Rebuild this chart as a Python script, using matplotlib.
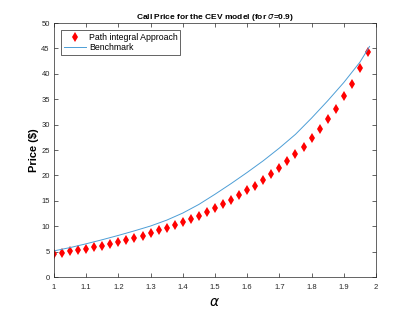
import numpy as np
import matplotlib
matplotlib.use('Agg')
import matplotlib.pyplot as plt

# dados
alpha_pi = [1.0, 1.025, 1.05, 1.075, 1.1, 1.125, 1.15, 1.175, 1.2, 1.225,
            1.25, 1.275, 1.3, 1.325, 1.35, 1.375, 1.4, 1.425, 1.45, 1.475,
            1.5, 1.525, 1.55, 1.575, 1.6, 1.625, 1.65, 1.675, 1.7, 1.725,
            1.75, 1.775, 1.8, 1.825, 1.85, 1.875, 1.9, 1.925, 1.95, 1.975]
preco_pi = [4.5, 4.8, 5.05, 5.3, 5.5, 5.9, 6.2, 6.5, 6.95, 7.3,
            7.7, 8.1, 8.7, 9.2, 9.7, 10.2, 10.8, 11.5, 12.1, 12.85,
            13.5, 14.35, 15.15, 16.1, 17.05, 18.0, 19.1, 20.3, 21.5, 22.8,
            24.2, 25.6, 27.3, 29.2, 31.1, 33.1, 35.6, 38.1, 41.1, 44.4]

alpha_bm = [1.0, 1.05, 1.1, 1.15, 1.2, 1.25, 1.3, 1.35, 1.4, 1.45,
            1.5, 1.55, 1.6, 1.65, 1.7, 1.75, 1.8, 1.85, 1.9, 1.95, 1.98]
preco_bm = [5.15, 5.8, 6.55, 7.35, 8.2, 9.1, 10.05, 11.2, 12.6, 14.3,
            16.3, 18.4, 20.6, 22.9, 25.4, 28.1, 31.3, 34.7, 38.3, 42.3, 45.4]

plt.rcParams['font.family'] = ['Liberation Sans', 'DejaVu Sans']

fig = plt.figure(figsize=(4.15, 3.12), dpi=100)
ax = fig.add_axes([0.13, 0.112, 0.776, 0.814])

ax.plot(alpha_pi, preco_pi, 'd', color='red', markersize=5, markeredgewidth=0,
        label='Path integral Approach')
ax.plot(alpha_bm, preco_bm, '-', color='#4d9ed6', linewidth=0.7, label='Benchmark')

ax.set_xlim(1, 2)
ax.set_ylim(0, 50)
ax.set_xticks(np.arange(1, 2.01, 0.1))
ax.set_xticklabels(['1', '1.1', '1.2', '1.3', '1.4', '1.5', '1.6', '1.7', '1.8', '1.9', '2'])
ax.set_yticks(np.arange(0, 51, 5))

cinza = '#262626'
ax.tick_params(direction='in', length=3, width=0.5, labelsize=5.5, colors=cinza,
               top=True, right=True, pad=3)
ax.tick_params(axis='x', pad=5)
for s in ax.spines.values():
    s.set_linewidth(0.5)
    s.set_color(cinza)

ax.set_title(r'Call Price for the CEV model (for $\sigma$=0.9)', fontsize=6,
             fontweight='bold', pad=3)
ax.set_ylabel('Price ($)', fontsize=8, fontweight='bold')
ax.yaxis.set_label_coords(-0.047, 0.5)
ax.set_xlabel(r'$\alpha$', fontsize=10, labelpad=3)

leg = ax.legend(loc='upper left', fontsize=6.3, fancybox=False, framealpha=1,
                edgecolor=cinza, borderaxespad=0.8, handlelength=2.6,
                handletextpad=0.3, borderpad=0.3, labelspacing=0.2)
leg.get_frame().set_linewidth(0.5)

fig.savefig('out.png', dpi=100)
